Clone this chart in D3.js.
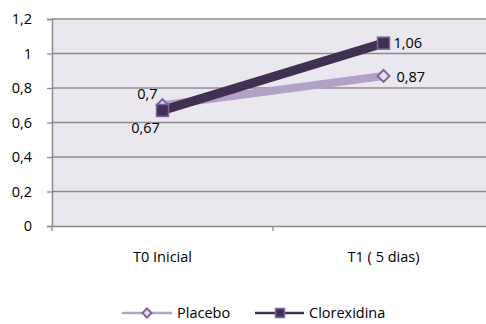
<!DOCTYPE html>
<html>
<head>
<meta charset="utf-8">
<script src="https://cdn.jsdelivr.net/npm/d3@7"></script>
<style>
  html, body { margin: 0; padding: 0; background: #fff; }
  svg { display: block; font-family: "Open Sans", sans-serif; }
</style>
</head>
<body>
<svg id="chart" width="486" height="324"></svg>
<script>
const categories = ["T0 Inicial", "T1 ( 5 dias)"];
const placebo = [0.7, 0.87];
const clorexidina = [0.67, 1.06];
const yTicks = [0, 0.2, 0.4, 0.6, 0.8, 1, 1.2];
const seriesNames = ["Placebo", "Clorexidina"];

const fmt = v => String(v).replace(".", ",");
const FONT = "'Open Sans', sans-serif";
const FS = 14.5;

const svg = d3.select("#chart");
const plotLeft = 52, plotRight = 494, plotTop = 19, plotBottom = 226;

const x = d3.scaleBand().domain(categories).range([plotLeft, plotRight]);
const y = d3.scaleLinear().domain([0, 1.2]).range([plotBottom, plotTop]);
const cx = c => x(c) + x.bandwidth() / 2;

// plot area
svg.append("rect").attr("x", plotLeft).attr("y", plotTop)
  .attr("width", plotRight - plotLeft).attr("height", plotBottom - plotTop)
  .attr("fill", "#EAE8EE");

// gridlines
svg.append("g").selectAll("line").data(yTicks.filter(d => d > 0)).join("line")
  .attr("x1", plotLeft).attr("x2", plotRight)
  .attr("y1", d => y(d)).attr("y2", d => y(d))
  .attr("stroke", "#8c8c8c").attr("stroke-width", 1.3);

// y axis
const yAxis = svg.append("g").attr("transform", `translate(${plotLeft},0)`)
  .call(d3.axisLeft(y).tickValues(yTicks).tickFormat(fmt).tickSize(5).tickPadding(15));
yAxis.select(".domain").attr("stroke", "#8c8c8c").attr("stroke-width", 1.5);
yAxis.selectAll(".tick line").attr("stroke", "#8c8c8c").attr("stroke-width", 1.3);
yAxis.selectAll("text").attr("font-size", FS).attr("fill", "#000")
  .attr("font-family", FONT);

// x axis
const xAxis = svg.append("g").attr("transform", `translate(0,${plotBottom})`)
  .call(d3.axisBottom(x).tickSize(0).tickPadding(26));
xAxis.select(".domain").attr("stroke", "#8c8c8c").attr("stroke-width", 1.5);
xAxis.selectAll("text").attr("font-size", FS).attr("fill", "#000")
  .attr("font-family", FONT);
// category separators
svg.append("g").selectAll("line").data([plotLeft, x(categories[1]), plotRight]).join("line")
  .attr("x1", d => d).attr("x2", d => d)
  .attr("y1", plotBottom).attr("y2", plotBottom + 5)
  .attr("stroke", "#8c8c8c").attr("stroke-width", 1.3);

const line = d3.line().x((d, i) => cx(categories[i])).y(d => y(d));

// Placebo
svg.append("path").datum(placebo).attr("d", line)
  .attr("fill", "none").attr("stroke", "#B3A2C7").attr("stroke-width", 8);
// Clorexidina
svg.append("path").datum(clorexidina).attr("d", line)
  .attr("fill", "none").attr("stroke", "#403152").attr("stroke-width", 9);

function drawDiamond(g, px, py, r) {
  g.append("path").attr("d", `M0,${-r}L${r},0L0,${r}L${-r},0Z`)
    .attr("transform", `translate(${px},${py})`)
    .attr("fill", "#E6E0EC").attr("stroke", "#8064A2").attr("stroke-width", 2);
}
function drawSquare(g, px, py, s) {
  g.append("rect").attr("x", px - s / 2).attr("y", py - s / 2)
    .attr("width", s).attr("height", s)
    .attr("fill", "#403152").attr("stroke", "#8064A2").attr("stroke-width", 1.5);
}

const markers = svg.append("g");
placebo.forEach((v, i) => drawDiamond(markers, cx(categories[i]), y(v), 6));
clorexidina.forEach((v, i) => drawSquare(markers, cx(categories[i]), y(v), 12));

// data labels
const labels = svg.append("g").attr("font-size", FS).attr("font-family", FONT).attr("fill", "#000");
labels.append("text").attr("x", cx(categories[0]) - 15).attr("y", y(placebo[0]) - 6)
  .attr("text-anchor", "middle").text(fmt(placebo[0]));
labels.append("text").attr("x", cx(categories[0]) - 17).attr("y", y(clorexidina[0]) + 23)
  .attr("text-anchor", "middle").text(fmt(clorexidina[0]));
labels.append("text").attr("x", cx(categories[1]) + 10).attr("y", y(clorexidina[1]) + 5)
  .text(fmt(clorexidina[1]));
labels.append("text").attr("x", cx(categories[1]) + 13).attr("y", y(placebo[1]) + 6)
  .text(fmt(placebo[1]));

// legend
const lg = svg.append("g").attr("font-size", FS).attr("font-family", FONT);
const ly = 313;
lg.append("line").attr("x1", 122).attr("x2", 172).attr("y1", ly).attr("y2", ly)
  .attr("stroke", "#B3A2C7").attr("stroke-width", 2.5);
drawDiamond(lg, 147, ly, 4.5);
lg.append("text").attr("x", 177).attr("y", ly + 5).text(seriesNames[0]);
lg.append("line").attr("x1", 255).attr("x2", 304).attr("y1", ly).attr("y2", ly)
  .attr("stroke", "#403152").attr("stroke-width", 2.5);
drawSquare(lg, 280, ly, 9);
lg.append("text").attr("x", 309).attr("y", ly + 5).text(seriesNames[1]);
</script>
</body>
</html>
